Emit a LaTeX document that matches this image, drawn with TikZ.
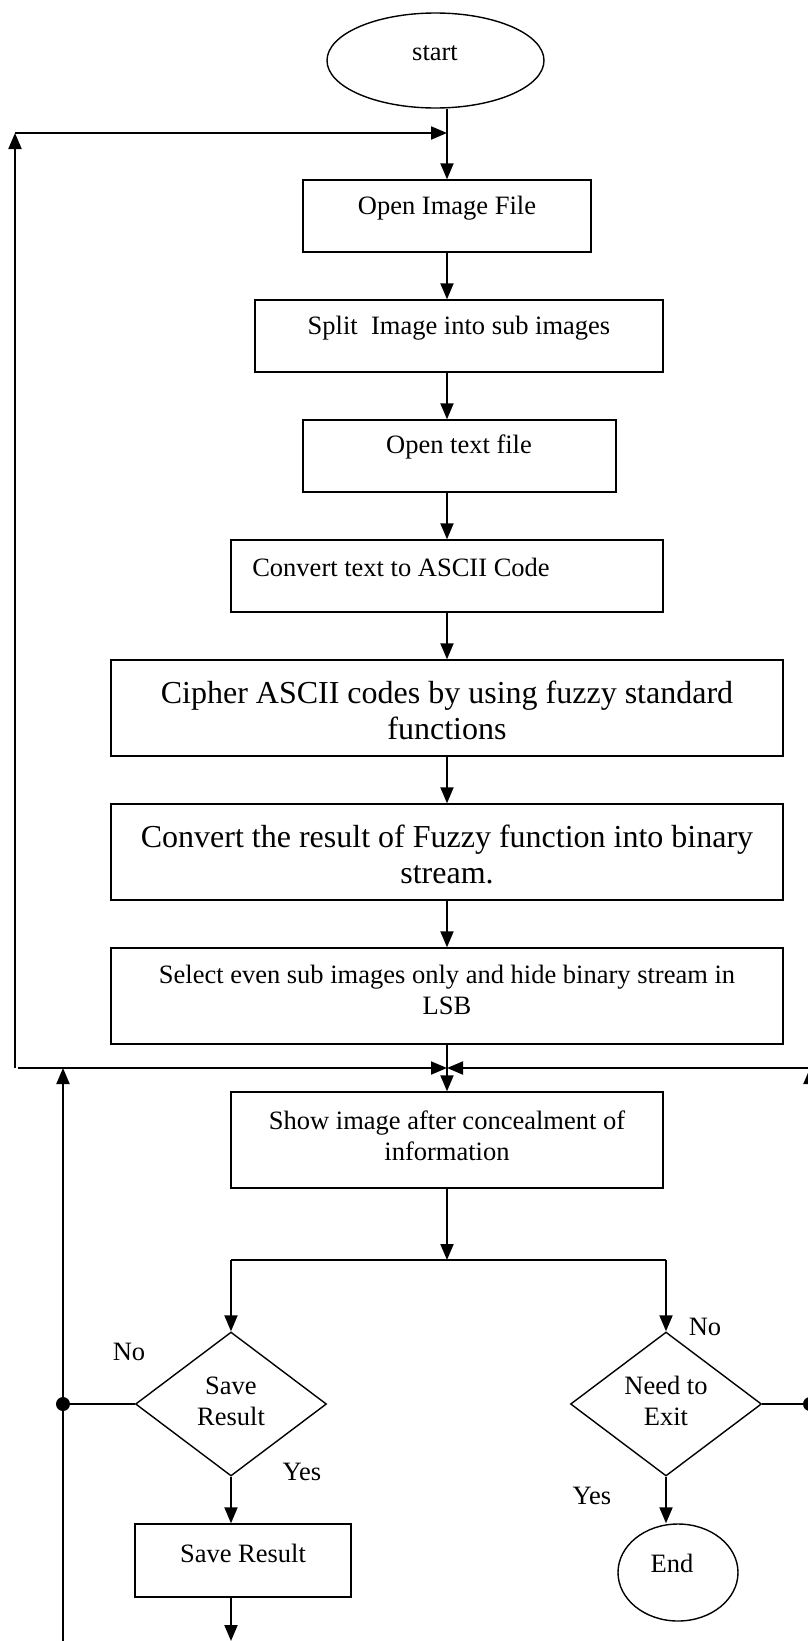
\documentclass[tikz,border=0pt]{standalone}
\usepackage{fontspec}
\setmainfont{Liberation Serif}
\usetikzlibrary{shapes.geometric, arrows.meta}
\begin{document}
\begin{tikzpicture}[x=1pt, y=-1pt,
  conn/.style={line width=2pt},
  arr/.style={line width=2pt, -{Triangle[length=16pt,width=13pt]}},
  boxs/.style={draw, line width=1.4pt, rectangle, inner sep=0pt},
  txt/.style={inner sep=0pt, font=\fontsize{26.5}{31}\selectfont, align=center},
  bigtxt/.style={inner sep=0pt, font=\fontsize{32}{36}\selectfont, align=center},
  dotn/.style={circle, fill=black, inner sep=0pt, minimum size=14pt},
  dec/.style={draw, diamond, line width=1.4pt, inner sep=0pt, minimum width=191pt, minimum height=144pt},
  oval/.style={draw, ellipse, line width=1.4pt, inner sep=0pt},
]
\path[use as bounding box, fill=white] (0,0) rectangle (808,1641);

% start
\node[oval, minimum width=217pt, minimum height=95pt] (start) at (435.5,60.5) {};
\node[txt] (tstart) at (435,53) {start};

% process boxes
\node[boxs, minimum width=288pt, minimum height=72pt] (b1) at (447,216) {};
\node[txt] (t1) at (447,208) {Open Image File};
\node[boxs, minimum width=408pt, minimum height=72pt] (b2) at (459,336) {};
\node[txt] (t2) at (459,328) {Split\ \ Image into sub images};
\node[boxs, minimum width=313pt, minimum height=72pt] (b3) at (459.5,456) {};
\node[txt] (t3) at (459,447) {Open text file};
\node[boxs, minimum width=432pt, minimum height=72pt] (b4) at (447,576) {};
\node[txt] (t4) at (401,567) {Convert text to ASCII Code};
\node[boxs, minimum width=672pt, minimum height=96pt] (b5) at (447,708) {};
\node[bigtxt] (t5) at (447,710) {Cipher ASCII codes by using fuzzy standard\\functions};
\node[boxs, minimum width=672pt, minimum height=96pt] (b6) at (447,852) {};
\node[bigtxt] (t6) at (447,854) {Convert the result of Fuzzy function into binary\\stream.};
\node[boxs, minimum width=672pt, minimum height=96pt] (b7) at (447,996) {};
\node[txt] (t7) at (447,990) {Select even sub images only and hide binary stream in\\LSB};
\node[boxs, minimum width=432pt, minimum height=96pt] (b8) at (447,1140) {};
\node[txt] (t8) at (447,1136) {Show image after concealment of\\information};

% decisions
\node[dec] (d1) at (231,1404) {};
\node[txt] (td1) at (231,1401) {Save\\Result};
\node[dec] (d2) at (666,1404) {};
\node[txt] (td2) at (666,1401) {Need to\\Exit};

\node[boxs, minimum width=216pt, minimum height=73pt] (b9) at (243,1560.5) {};
\node[txt] (t9) at (243,1553) {Save Result};
\node[oval, minimum width=120pt, minimum height=97pt] (endc) at (678,1572.5) {};
\node[txt] (tend) at (672,1563) {End};

% labels
\node[txt] (no1) at (129,1352) {No};
\node[txt] (yes1) at (302,1472) {Yes};
\node[txt] (no2) at (705,1327) {No};
\node[txt] (yes2) at (592,1496) {Yes};

% dots and coordinates
\node[dotn] (dotl) at (63,1404) {};
\node[dotn] (dotr) at (810,1404) {};
\coordinate (tl) at (15,133);
\coordinate (bl) at (15,1068);
\coordinate (j) at (447,1068);
\coordinate (jl) at (18,1068);
\coordinate (jr) at (814,1068);
\coordinate (s) at (447,1260);
\coordinate (sl) at (231,1260);
\coordinate (sr) at (666,1260);
\coordinate (lb) at (63,1641);
\coordinate (bb) at (231,1641);
\coordinate (rr) at (810,1068);

% connectors
\draw[arr] (start.south -| b1.north) -- (b1.north);
\draw[arr] (bl) -- (tl);
\draw[arr] (tl) -- (tl -| b1.north);
\draw[arr] (b1.south) -- (b1.south |- b2.north);
\draw[arr] (b1.south |- b2.south) -- (b1.south |- b3.north);
\draw[arr] (b1.south |- b3.south) -- (b4.north);
\draw[arr] (b4.south) -- (b5.north);
\draw[arr] (b5.south) -- (b6.north);
\draw[arr] (b6.south) -- (b7.north);
\draw[conn] (b7.south) -- (j);
\draw[arr] (jl) -- (j);
\draw[arr] (jr) -- (j);
\draw[arr] (j) -- (b8.north);
\draw[arr] (b8.south) -- (s);
\draw[conn] (sl) -- (sr);
\draw[arr] (sl) -- (d1.north);
\draw[arr] (sr) -- (d2.north);
\draw[conn] (d1.west) -- (dotl);
\draw[arr] (lb) -- (lb |- j);
\draw[arr] (d1.south) -- (d1.south |- b9.north);
\draw[arr] (d1.south |- b9.south) -- (bb);
\draw[arr] (d2.south) -- (d2.south |- endc.north);
\draw[conn] (d2.east) -- (dotr);
\draw[arr] (dotr) -- (rr);
\end{tikzpicture}
\end{document}
